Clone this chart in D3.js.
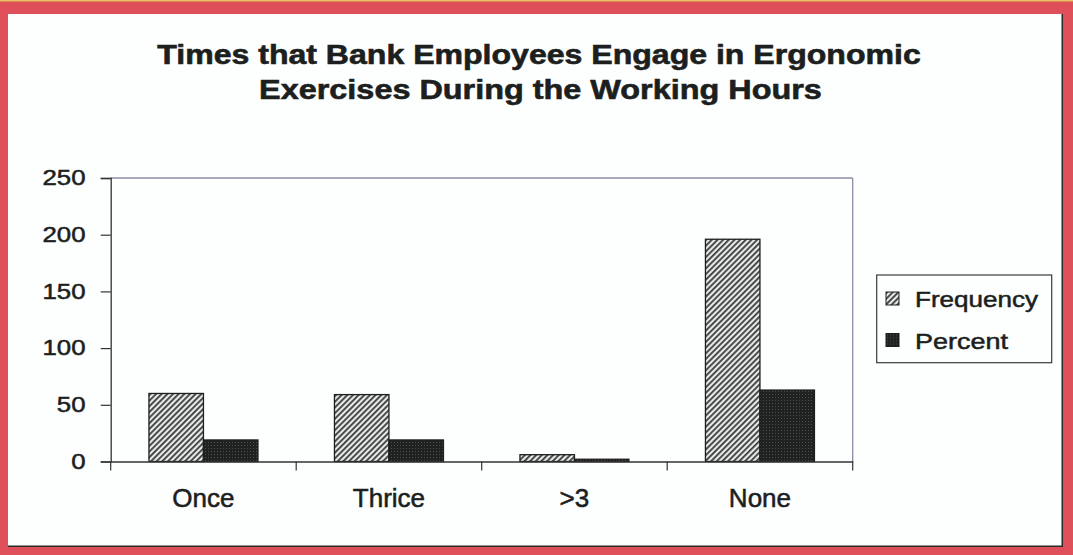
<!DOCTYPE html>
<html><head><meta charset="utf-8">
<script src="https://cdn.jsdelivr.net/npm/d3@7"></script>
<style>html,body{margin:0;padding:0;background:#df4f5a;}svg{display:block;}</style>
</head><body>
<svg id="chart" width="1073" height="555"></svg>
<script>
const categories = ["Once", "Thrice", ">3", "None"];
const frequency = [60, 59, 6, 196];
const percent = [19, 19, 2, 63];
const seriesNames = ["Frequency", "Percent"];
const yTicks = [0, 50, 100, 150, 200, 250];
const titleLines = ["Times that Bank Employees Engage in Ergonomic", "Exercises During the Working Hours"];

const svg = d3.select("#chart");
const defs = svg.append("defs");
const ph = defs.append("pattern").attr("id","hatch").attr("patternUnits","userSpaceOnUse")
  .attr("width",4).attr("height",4).attr("patternTransform","rotate(45)");
ph.append("rect").attr("width",4).attr("height",4).attr("fill","#e6ebe9");
ph.append("rect").attr("x",0).attr("y",0).attr("width",1.8).attr("height",4).attr("fill","#3a3d3c");
const pd = defs.append("pattern").attr("id","dark").attr("patternUnits","userSpaceOnUse")
  .attr("width",3).attr("height",3);
pd.append("rect").attr("width",3).attr("height",3).attr("fill","#1f2220");
pd.append("rect").attr("x",1).attr("y",1).attr("width",1).attr("height",1).attr("fill","#4a4f4c");

svg.append("rect").attr("x",0).attr("y",0).attr("width",1073).attr("height",555).attr("fill","#df4f5a");
svg.append("rect").attr("x",0).attr("y",0).attr("width",1073).attr("height",1.5).attr("fill","#e8c060");
svg.append("rect").attr("x",8).attr("y",14).attr("width",1055).attr("height",533).attr("fill","#2a2a2a");
svg.append("rect").attr("x",8).attr("y",14).attr("width",1053.5).attr("height",531.5).attr("fill","#fdfefe");

const plot = {left:110.7, right:852.7, top:178, bottom:461.5};
const x = d3.scaleBand().domain(categories).range([plot.left, plot.right]).paddingInner(0).paddingOuter(0);
const y = d3.scaleLinear().domain([0,250]).range([plot.bottom, plot.top]);
const barW = 54.5;

const textColor = "#1c1f1e";
const font = "Arial, 'Liberation Sans', sans-serif";

function stretchTo(sel, targetW, anchorX, baseY, anchor) {
  sel.each(function(d,i){
    const t = d3.select(this);
    const w = this.getComputedTextLength();
    const tw = typeof targetW === "function" ? targetW(d,i) : targetW;
    const ax = typeof anchorX === "function" ? anchorX(d,i) : anchorX;
    const by = typeof baseY === "function" ? baseY(d,i) : baseY;
    const s = tw / w;
    t.attr("x",0).attr("y",0).attr("text-anchor",anchor)
     .attr("transform",`translate(${ax},${by}) scale(${s},1)`);
  });
}

// title
const title = svg.append("g").selectAll("text").data(titleLines).join("text")
  .attr("font-family", font).attr("font-weight","bold").attr("font-size",27)
  .attr("fill", textColor).attr("stroke", textColor).attr("stroke-width",0.6)
  .text(d=>d);
stretchTo(title, (d,i)=> i===0 ? 764 : 563, (d,i)=> i===0 ? 539 : 540.5, (d,i)=> 63.5 + i*35, "middle");

// plot frame
svg.append("line").attr("x1",plot.left).attr("x2",plot.right).attr("y1",plot.top).attr("y2",plot.top)
  .attr("stroke","#8a8ca6").attr("stroke-width",1.3);
svg.append("line").attr("x1",plot.right).attr("x2",plot.right).attr("y1",plot.top).attr("y2",plot.bottom)
  .attr("stroke","#8a8ca6").attr("stroke-width",1.3);

// bars
const groups = svg.append("g").selectAll("g").data(categories).join("g");
groups.append("rect")
  .attr("x", d => x(d) + x.bandwidth()/2 - barW)
  .attr("y", (d,i) => y(frequency[i]))
  .attr("width", barW)
  .attr("height", (d,i) => y(0) - y(frequency[i]))
  .attr("fill","url(#hatch)").attr("stroke","#1e1e1e").attr("stroke-width",1.3);
groups.append("rect")
  .attr("x", d => x(d) + x.bandwidth()/2)
  .attr("y", (d,i) => y(percent[i]))
  .attr("width", barW)
  .attr("height", (d,i) => y(0) - y(percent[i]))
  .attr("fill","url(#dark)").attr("stroke","#1e1e1e").attr("stroke-width",1.3);

// y axis
const yAxis = svg.append("g").attr("transform",`translate(${plot.left},0)`)
  .call(d3.axisLeft(y).tickValues(yTicks).tickSize(10));
yAxis.select(".domain").attr("stroke","#333").attr("stroke-width",1.3);
yAxis.selectAll(".tick line").attr("stroke","#333").attr("stroke-width",1.2);
const ys = 1.2;
yAxis.selectAll("text").attr("font-family",font).attr("font-size",21.5).attr("fill",textColor)
  .attr("stroke",textColor).attr("stroke-width",0.5)
  .attr("x", -(plot.left - 85.5)/ys).attr("transform",`scale(${ys},1)`);

// x axis
const xAxis = svg.append("g").attr("transform",`translate(0,${plot.bottom})`)
  .call(d3.axisBottom(x).tickSize(0).tickPadding(27));
xAxis.select(".domain").attr("stroke","#333").attr("stroke-width",1.3);
xAxis.selectAll("text").attr("font-family",font).attr("font-size",26).attr("fill",textColor)
  .attr("stroke",textColor).attr("stroke-width",0.55);
const bounds = categories.map(c => x(c)).concat([plot.right]);
xAxis.selectAll("line.bt").data(bounds).join("line").attr("class","bt")
  .attr("x1",d=>d).attr("x2",d=>d).attr("y1",0).attr("y2",9)
  .attr("stroke","#333").attr("stroke-width",1.2);

// legend
const lg = svg.append("g");
lg.append("rect").attr("x",876.7).attr("y",275).attr("width",175).attr("height",87.7)
  .attr("fill","none").attr("stroke","#3a3a3a").attr("stroke-width",1.2);
const items = lg.selectAll("g").data(seriesNames).join("g")
  .attr("transform",(d,i)=>`translate(886,${292 + i*41.5})`);
items.append("rect").attr("width",13).attr("height",13)
  .attr("fill",(d,i)=> i===0 ? "url(#hatch)" : "url(#dark)")
  .attr("stroke","#1e1e1e").attr("stroke-width",1);
const lt = items.append("text")
  .attr("font-family",font).attr("font-size",21.5).attr("fill",textColor)
  .attr("stroke",textColor).attr("stroke-width",0.5)
  .text(d=>d);
stretchTo(lt, (d,i)=> i===0 ? 123 : 93, 29, 15, "start");
</script>
</body></html>
